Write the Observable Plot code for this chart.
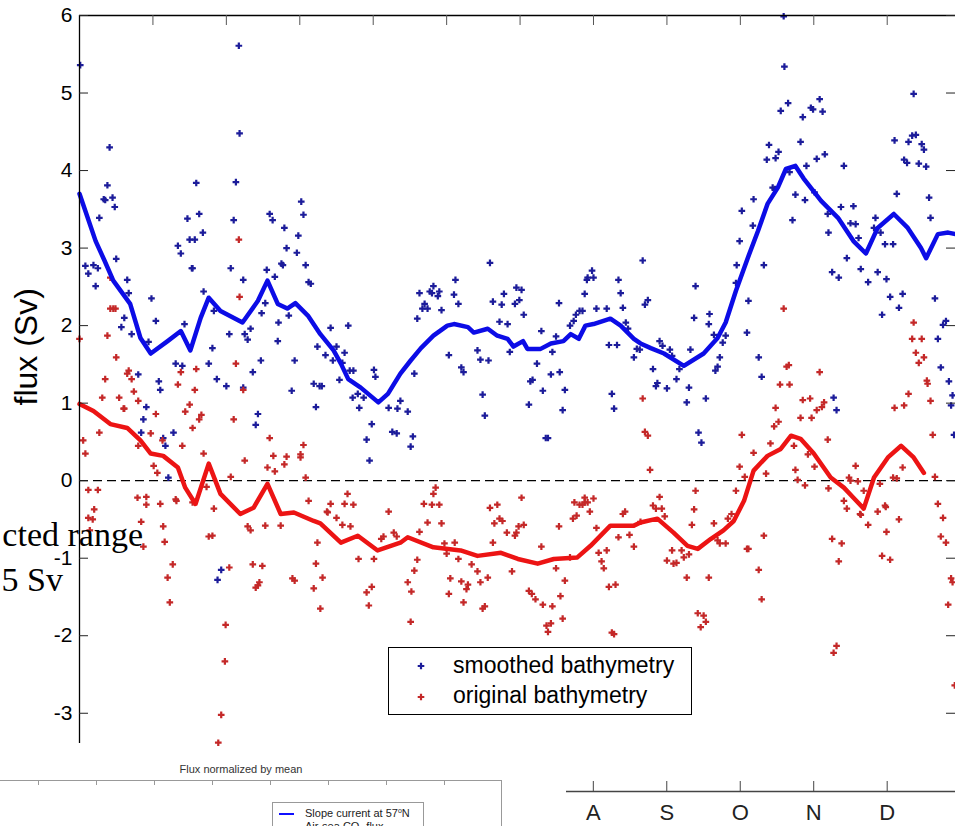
<!DOCTYPE html>
<html><head><meta charset="utf-8">
<script src="https://cdn.jsdelivr.net/npm/d3@7"></script>
<script src="https://cdn.jsdelivr.net/npm/@observablehq/plot@0.6"></script>
<style>
html,body{margin:0;padding:0;background:#fff;}
#wrap{position:relative;width:955px;height:826px;overflow:hidden;font-family:"Liberation Sans",Arial,sans-serif;}
#wrap svg{display:block;}
.abs{position:absolute;white-space:nowrap;}
</style></head><body><div id="wrap"></div>
<script>
// x: months since Jan 1 (tick every month), y: flux (Sv)
const yTicks = [-3,-2,-1,0,1,2,3,4,5,6];
const monthTicks = [1,2,3,4,5,6,7,8,9,10,11];
const monthLetters = ["J","F","M","A","M","J","J","A","S","O","N","D"];
const shownMonths = [7,8,9,10,11];

const blueSmooth = [[0,3.70],[0.22,3.09],[0.34,2.84],[0.46,2.58],[0.69,2.28],[0.83,1.84],[0.97,1.64],[1.20,1.80],[1.38,1.93],[1.51,1.68],
[1.65,2.10],[1.76,2.36],[1.92,2.19],[2.22,2.04],[2.43,2.32],[2.56,2.58],[2.70,2.28],[2.83,2.22],[2.94,2.29],[3.11,2.13],
[3.28,1.89],[3.46,1.68],[3.56,1.51],[3.66,1.31],[3.83,1.20],[4.07,1.01],[4.20,1.12],[4.37,1.38],[4.51,1.55],[4.65,1.71],
[4.82,1.87],[5.01,2.00],[5.10,2.02],[5.29,1.98],[5.37,1.91],[5.56,1.96],[5.69,1.87],[5.83,1.83],[5.91,1.73],[6.04,1.80],
[6.10,1.70],[6.28,1.70],[6.42,1.77],[6.59,1.80],[6.69,1.89],[6.80,1.83],[6.89,2.00],[7.00,2.02],[7.23,2.09],[7.37,2.00],
[7.55,1.83],[7.64,1.77],[7.78,1.71],[7.96,1.64],[8.23,1.48],[8.50,1.64],[8.69,1.84],[8.80,2.04],[8.94,2.45],[9.10,2.87],
[9.24,3.22],[9.37,3.57],[9.51,3.78],[9.62,4.02],[9.75,4.06],[9.86,3.90],[10.10,3.61],[10.33,3.39],[10.54,3.09],[10.71,2.93],
[10.87,3.26],[11.09,3.44],[11.28,3.26],[11.46,3.00],[11.53,2.87],[11.69,3.18],[11.83,3.20],[11.93,3.18]];

const redSmooth = [[0,0.99],[0.19,0.90],[0.42,0.73],[0.65,0.68],[0.83,0.52],[0.97,0.35],[1.14,0.32],[1.34,0.17],[1.44,-0.09],[1.58,-0.30],
[1.76,0.22],[1.92,-0.17],[2.19,-0.43],[2.37,-0.35],[2.56,-0.04],[2.74,-0.43],[2.92,-0.41],[3.19,-0.52],[3.28,-0.55],[3.56,-0.80],
[3.79,-0.71],[4.06,-0.90],[4.37,-0.80],[4.47,-0.73],[4.82,-0.86],[5.19,-0.90],[5.42,-0.97],[5.74,-0.93],[5.97,-1.01],[6.24,-1.07],
[6.46,-1.01],[6.78,-0.99],[6.96,-0.84],[7.23,-0.58],[7.55,-0.58],[7.64,-0.54],[7.87,-0.49],[8.09,-0.67],[8.28,-0.84],[8.42,-0.88],
[8.60,-0.75],[8.77,-0.64],[8.91,-0.52],[9.05,-0.26],[9.18,0.13],[9.37,0.32],[9.55,0.41],[9.69,0.58],[9.82,0.54],[10.00,0.35],
[10.23,0.04],[10.41,-0.09],[10.54,-0.22],[10.68,-0.36],[10.82,0.04],[11.01,0.30],[11.19,0.45],[11.36,0.30],[11.50,0.10]];

const bluePoints = [[0.01,5.36],[0.41,4.30],[2.17,5.61],[2.18,4.48],[0.38,3.81],[0.33,3.63],[0.35,3.62],[0.45,3.65],[0.48,3.53],[0.27,3.39],
[1.59,3.84],[1.63,3.44],[1.68,3.20],[1.47,3.38],[1.50,3.11],[1.57,3.11],[1.34,3.03],[1.38,2.93],[1.53,2.74],[2.13,3.85],
[2.10,3.36],[2.06,2.74],[2.59,3.44],[2.63,3.36],[2.79,3.26],[2.82,3.00],[2.75,2.80],[2.55,2.72],[2.66,2.63],[3.02,3.60],
[3.05,3.43],[2.98,3.16],[2.96,2.94],[3.08,2.78],[0.08,2.77],[0.12,2.67],[0.19,2.78],[0.25,2.74],[0.50,2.86],[0.65,2.59],
[2.23,2.59],[3.12,2.56],[5.59,2.81],[5.12,2.59],[6.98,2.71],[6.92,2.62],[7.00,2.62],[7.34,2.59],[9.59,5.99],[9.60,5.34],
[9.65,4.87],[9.55,4.77],[9.85,4.69],[9.96,4.81],[9.99,4.79],[10.08,4.92],[10.12,4.76],[9.39,4.33],[9.52,4.24],[9.48,4.16],
[9.36,4.14],[9.82,4.37],[10.15,4.21],[10.04,4.15],[9.90,4.06],[9.67,3.98],[10.41,4.06],[9.44,3.78],[9.47,3.76],[9.75,3.69],
[9.88,3.62],[10.01,3.72],[9.18,3.63],[9.02,3.48],[9.71,3.36],[10.19,3.44],[10.37,3.53],[10.54,3.54],[10.50,3.32],[10.57,3.31],
[10.61,3.13],[10.20,3.20],[10.84,3.39],[10.82,3.26],[10.91,3.20],[10.97,3.05],[11.08,3.05],[9.17,3.29],[8.99,3.09],[8.95,2.78],
[9.32,2.78],[10.45,2.87],[10.64,2.73],[10.25,2.69],[10.34,2.62],[10.87,2.69],[10.99,2.60],[7.67,2.84],[11.36,4.99],[11.10,4.39],
[11.29,4.37],[11.34,4.45],[11.39,4.46],[11.47,4.34],[11.50,4.27],[11.23,4.14],[11.27,4.10],[11.43,4.09],[11.53,4.05],[11.13,3.70],
[11.57,3.65],[11.59,3.39],
[0.22,2.51],[0.67,2.42],[0.98,2.35],[1.04,2.06],[0.57,1.98],[0.61,2.10],[0.71,1.89],[0.80,1.37],[0.94,1.79],[1.43,2.02],
[1.08,1.28],[1.10,1.17],[0.91,0.95],[0.87,0.79],[0.84,0.62],[1.14,0.55],[1.28,0.62],[1.17,0.45],[1.21,0.04],[1.31,1.51],
[1.40,1.48],[1.54,2.74],[1.69,2.44],[1.83,2.19],[1.81,1.71],[1.76,1.51],[1.87,1.31],[2.00,1.22],[2.04,1.89],[2.25,1.89],
[2.29,1.82],[2.33,1.96],[2.23,1.20],[2.36,1.40],[2.43,0.86],[2.40,0.72],[2.47,1.55],[2.53,2.29],[2.48,2.16],[2.71,2.04],
[2.70,1.80],[2.77,2.78],[2.85,2.13],[2.93,1.55],[2.89,1.16],[3.24,1.73],[3.19,1.25],[3.27,1.22],[3.22,0.95],
[3.15,2.54],[3.42,1.97],[3.35,1.62],[3.45,1.55],[3.50,1.73],[3.61,1.65],[3.58,1.52],[3.54,1.30],[3.66,2.00],[3.68,1.42],
[3.73,1.42],[3.30,1.22],[3.72,1.07],[3.79,1.12],[3.81,0.94],[3.87,1.07],[4.01,1.43],[4.03,1.34],[3.98,0.73],[3.91,0.53],
[3.95,0.26],[4.21,0.94],[4.26,0.63],[4.32,0.61],[4.33,0.93],[4.37,1.03],[4.47,0.89],[4.54,0.57],[4.51,0.44],[4.56,1.38],
[4.60,2.09],[4.63,2.42],[4.67,2.22],[4.74,2.22],[4.70,2.28],[4.77,2.44],[4.80,2.42],[4.82,2.51],[4.88,2.38],[4.90,2.44],
[4.93,2.20],[5.03,1.62],[5.10,2.40],[5.16,2.28],[5.20,1.46],[5.23,1.40],[5.42,1.68],[5.46,1.56],[5.57,1.55],[5.49,1.11],
[5.52,0.84],[5.63,2.31],[5.72,2.05],[5.78,2.41],[5.75,2.27],[5.83,2.02],[5.86,1.66],[5.93,2.28],[5.95,2.49],[6.02,2.46],
[5.99,2.33],[6.05,2.14],[6.12,0.98],[6.14,1.28],[6.17,1.30],[6.23,1.51],[6.29,1.93],[6.31,1.16],[6.35,0.55],[6.38,0.55],
[6.42,1.37],[6.44,1.66],[6.49,1.86],[6.53,2.29],[6.54,1.40],[6.61,1.17],[6.58,0.91],[6.68,2.00],[6.73,2.06],[6.76,2.14],
[6.81,2.19],[6.85,2.19],[6.88,2.41],[6.91,2.59],[7.04,2.22],[7.18,2.22],[7.21,1.75],[7.25,1.12],[7.28,0.93],[7.32,1.75],
[7.37,2.42],[7.40,2.23],[7.44,2.04],
[7.47,1.96],[7.55,1.59],[7.59,1.70],[7.63,1.69],[7.70,2.27],[7.74,2.33],[7.81,1.44],[7.85,1.22],[7.87,1.26],[7.90,1.80],
[7.94,1.74],[8.00,1.19],[8.04,1.69],[8.07,1.61],[8.13,1.31],[8.17,1.44],[8.27,1.01],[8.30,1.20],[8.32,1.69],[8.37,2.10],
[8.39,2.51],[8.43,0.62],[8.47,0.49],[8.53,1.06],[8.57,2.02],[8.58,2.15],[8.64,1.88],[8.66,1.42],[8.69,1.47],[8.72,1.59],
[8.76,1.78],[8.80,1.87],[8.94,2.55],[9.11,2.32],[9.09,1.91],[9.25,1.59],[9.29,1.34],[10.27,1.07],[10.31,0.91],[10.74,2.56],
[11.04,2.37],[10.93,2.14],[11.16,2.23],[11.21,2.41],[11.65,2.35],[11.69,1.83],[11.76,2.01],[11.80,2.06],[11.73,1.46],[11.84,1.28],
[11.87,0.97],[11.89,1.10],[11.91,0.59],[1.93,-1.15],[1.88,-1.28]];

const redPoints = [[2.17,3.11],[0.42,2.62],[0.42,2.22],[0.46,2.22],[0.49,2.22],[0.00,1.83],[0.38,1.87],[0.50,1.59],[0.67,1.42],[0.65,1.38],
[0.71,1.31],[0.35,1.31],[0.54,1.07],[0.60,0.93],[0.61,0.93],[0.74,1.15],[0.80,1.03],[0.31,1.07],[0.27,0.62],[0.05,0.52],
[0.08,0.35],[0.12,-0.12],[0.25,-0.12],[0.20,-0.37],[0.12,-0.48],[0.80,0.45],[0.97,0.61],[1.04,0.86],[1.13,0.52],[1.01,0.19],
[1.06,0.10],[0.91,-0.21],[1.10,-0.30],[0.79,-0.22],[1.34,1.24],[1.38,1.40],[1.50,0.98],[1.44,0.89],[1.40,0.45],[1.31,-0.24],
[1.66,0.85],[1.63,0.79],[1.54,0.68],[1.57,1.17],[1.59,1.44],[1.69,0.35],[1.73,-0.08],[1.83,-0.36],[2.10,0.79],[2.13,1.51],
[2.18,2.37],[2.23,1.17],[2.25,0.26],[2.06,0.05],[2.59,0.55],[2.64,0.32],[2.66,0.12],[2.56,0.17],[2.79,0.21],[2.82,0.31],
[3.01,0.30],[3.05,0.46],[3.08,0.04],[3.12,-0.26],
[0.18,-0.50],[0.14,-0.64],[0.87,-0.85],[0.91,-0.31],[0.84,-0.53],[1.14,-0.59],[1.16,-0.79],[1.27,-1.08],[1.20,-1.25],[1.23,-1.57],
[1.32,-0.26],[1.54,-0.28],[1.76,-0.72],[1.81,-0.71],[2.04,-1.12],[1.99,-1.86],[1.98,-2.33],[1.93,-3.02],[1.89,-3.38],[2.29,-0.59],
[2.33,-0.64],[2.53,-0.58],[2.36,-1.08],[2.49,-1.10],[2.40,-1.38],[2.43,-1.35],[2.45,-1.31],[2.74,-0.58],[2.90,-1.26],[2.93,-1.29],
[3.24,-0.80],[3.22,-1.07],[3.19,-1.39],[3.28,-1.65],
[3.31,-1.25],[3.38,-0.41],[3.42,-0.30],[3.50,-0.48],[3.58,-0.57],[3.61,-0.30],[3.69,-0.59],[3.73,-0.31],[3.80,-1.01],[3.91,-1.44],
[3.94,-1.61],[3.98,-1.37],[4.01,-1.01],[4.11,-0.75],[4.14,-0.72],[4.21,-0.40],[4.28,-0.67],[4.32,-0.72],[4.47,-1.31],[4.52,-1.43],
[4.51,-1.82],[4.56,-1.16],[4.60,-1.02],[4.63,-0.66],[4.69,-0.30],[4.74,-0.54],[4.80,-0.31],[4.90,-0.31],[4.93,-0.55],[4.97,-0.81],
[5.00,-0.94],[5.03,-1.46],[5.05,-1.26],[5.11,-0.80],[5.16,-1.01],[5.20,-1.30],[5.23,-1.57],[5.27,-1.40],[5.29,-1.34],[5.34,-1.08],
[5.42,-1.17],[5.46,-1.31],[5.49,-1.65],[5.52,-1.62],[5.56,-1.25],[5.59,-0.35],[5.63,-0.80],[5.65,-0.55],[5.69,-0.31],[5.72,-0.49],
[5.76,-0.52],[5.82,-0.67],[5.89,-1.17],[5.93,-0.71],[5.95,-0.67],[5.98,-0.59],[6.05,-0.57],[6.12,-1.42],[6.16,-1.46],[6.21,-1.53],
[6.29,-0.85],[6.31,-1.60],[6.36,-1.87],[6.38,-1.95],[6.42,-1.84],[6.44,-1.62],[6.49,-1.13],[6.53,-0.59],[6.55,-1.49],[6.58,-1.78],
[6.61,-1.29],[6.68,-0.99],[6.72,-0.49],[6.77,-0.45],[6.81,-0.31],[6.85,-0.31],[6.88,-0.28],[6.95,-0.40],[7.04,-0.61],[7.07,-0.93],
[7.11,-1.04],[7.14,-1.13],[7.18,-0.90],[7.21,-1.37],[7.30,-1.34],[7.25,-1.96],[7.28,-1.98],[7.34,-0.73],[7.40,-0.43],[7.43,-0.40],
[7.49,-0.70],[7.55,-0.85],
[3.01,0.34],[3.37,-0.40],[3.65,-0.17],[4.82,-0.17],[4.85,-0.09],[6.02,-0.22],[6.74,-0.28],[6.88,-0.22],[7.00,-0.23],[6.92,-0.28],
[9.59,2.22],[11.36,2.04],[11.34,1.83],[11.47,1.83],[11.39,1.65],[11.50,1.59],[11.43,1.52],[9.63,1.47],[9.66,1.49],[10.08,1.40],
[9.54,1.24],[9.67,1.24],[11.54,1.29],[11.55,1.25],[11.29,1.12],[11.59,1.03],[9.85,1.04],[9.95,1.06],[10.14,1.01],[10.11,0.95],
[10.04,0.91],[9.97,0.81],[9.82,0.81],[9.48,0.94],[9.52,0.76],[9.46,0.70],[11.10,0.94],[11.23,0.97],[7.67,1.06],[7.70,0.63],
[7.74,0.58],[7.77,0.14],[9.02,0.59],[9.18,0.36],[9.41,0.48],[9.73,0.45],[10.19,0.53],[9.92,0.34],[10.01,0.18],[9.75,0.14],
[9.35,0.09],[8.99,0.18],[9.06,0.05],[8.94,-0.13],[9.78,0.01],[9.88,-0.06],[10.20,-0.10],[10.48,0.04],[10.50,0.00],[10.57,0.19],
[10.60,-0.01],[10.68,-0.13],[10.90,-0.04],[11.08,0.04],[11.13,0.03],[11.21,0.17],[11.65,0.05],[11.62,0.59],[8.39,-0.13],[8.37,-0.37],
[7.90,-0.21],[7.81,-0.32],[7.85,-0.36],[7.93,-0.36],[10.41,-0.26],[10.45,-0.36],[10.63,-0.43],[10.87,-0.40],[10.98,-0.34],[11.69,-0.30],
[11.76,-0.48],
[7.64,-0.53],[7.97,-0.46],[8.00,-1.03],[8.07,-0.90],[8.09,-1.07],[8.13,-1.06],[8.20,-0.90],[8.23,-0.99],[8.30,-0.95],[8.34,-0.57],
[8.27,-1.25],[8.57,-1.25],[8.64,-0.55],[8.69,-0.77],[8.72,-0.81],[8.80,-0.81],[8.83,-0.49],[8.88,-0.43],[9.09,-0.88],[9.11,-0.88],
[9.32,-0.71],[9.25,-1.15],[9.29,-1.53],[8.42,-1.71],[8.50,-1.74],[8.53,-1.82],[8.46,-1.89],[10.25,-0.75],[10.38,-0.81],[10.34,-1.04],
[10.31,-2.13],[10.27,-2.22],[10.64,-0.44],[10.74,-0.57],[10.97,-0.32],[10.99,-0.66],[11.16,-0.50],[10.93,-0.97],[11.04,-1.02],[11.73,-0.72],
[11.80,-0.80],[11.87,-1.26],[11.89,-1.31],[11.83,-1.60],[11.92,-2.64]];

const BLUE_PT = "#1c1c9a", RED_PT = "#c42828", BLUE_LN = "#0c0ce6", RED_LN = "#ec1414";
const wrap = document.getElementById("wrap");

const main = Plot.plot({
  width: 955, height: 826,
  marginLeft: 79, marginRight: 0, marginTop: 15, marginBottom: 83,
  x: {domain: [0, 11.93], axis: null},
  y: {domain: [-3.39, 6], axis: null},
  style: {background: "transparent", color: "#000", fontFamily: "'Liberation Sans', Arial, sans-serif", overflow: "visible"},
  marks: [
    Plot.ruleY([0], {stroke: "#000", strokeWidth: 1.2, strokeDasharray: "9,5"}),
    Plot.dot(bluePoints, {x: d => d[0], y: d => d[1], symbol: "cross", r: 2.8, fill: BLUE_PT}),
    Plot.dot(redPoints, {x: d => d[0], y: d => d[1], symbol: "cross", r: 2.8, fill: RED_PT}),
    Plot.line(blueSmooth, {x: d => d[0], y: d => d[1], stroke: BLUE_LN, strokeWidth: 4.5, strokeLinejoin: "round"}),
    Plot.line(redSmooth, {x: d => d[0], y: d => d[1], stroke: RED_LN, strokeWidth: 4.5, strokeLinejoin: "round"}),
    Plot.ruleX([0], {stroke: "#000", strokeWidth: 1.3}),
    Plot.ruleY([6], {stroke: "#000", strokeWidth: 1.3}),
    Plot.tickY(yTicks, {y: d => d, insetRight: 867, stroke: "#222"}),
    Plot.tickY(yTicks, {y: d => d, insetLeft: 867, stroke: "#222"}),
    Plot.tickX(monthTicks, {x: d => d, insetBottom: 718, stroke: "#555"}),
    Plot.axisY({ticks: yTicks, anchor: "left", tickSize: 0, tickPadding: 7, fontSize: 21, tickFormat: d => String(d), label: null}),
    Plot.text(["flux (Sv)"], {text: d => d, frameAnchor: "left", dx: -53, dy: 26, rotate: -90, fontSize: 32})
  ]
});
main.style.position = "absolute"; main.style.left = "0"; main.style.top = "0";
wrap.appendChild(main);

// bottom-right fragment: month axis A S O N D
const monthAxis = Plot.plot({
  width: 955, height: 56,
  marginLeft: 566, marginRight: 0, marginTop: 0, marginBottom: 35,
  x: {domain: [6.635, 11.93], axis: null},
  y: {domain: [0, 1], axis: null},
  style: {background: "transparent", color: "#222", fontFamily: "'Liberation Sans', Arial, sans-serif", overflow: "visible"},
  marks: [
    Plot.ruleY([0], {stroke: "#444", strokeWidth: 1.3}),
    Plot.tickX(shownMonths, {x: d => d, insetTop: 11, stroke: "#444"}),
    Plot.axisX({ticks: shownMonths, anchor: "bottom", tickSize: 0, tickPadding: 13, fontSize: 22, tickFormat: i => monthLetters[i], label: null})
  ]
});
monthAxis.style.position = "absolute"; monthAxis.style.left = "0"; monthAxis.style.top = "770px";
wrap.appendChild(monthAxis);

function add(html) { wrap.insertAdjacentHTML("beforeend", html); }

// overlapping serif text fragment
add(`<div class="abs" style="right:812px;top:518px;font:34px/34px 'Liberation Serif','Times New Roman',serif;color:#000;">cted range</div>`);
add(`<div class="abs" style="right:892px;top:563px;font:34px/34px 'Liberation Serif','Times New Roman',serif;color:#000;">5 Sv</div>`);

// main legend
const cross = c => `<svg width="8" height="8" viewBox="-4 -4 8 8" style="position:absolute;"><path d="M-1.1,-3.3H1.1V-1.1H3.3V1.1H1.1V3.3H-1.1V1.1H-3.3V-1.1H-1.1Z" fill="${c}"/></svg>`;
add(`<div class="abs" style="left:388px;top:647px;width:302px;height:66px;border:1.3px solid #000;background:#fff;"></div>`);
add(`<div class="abs" style="left:417px;top:662px;">${cross(BLUE_PT)}</div>`);
add(`<div class="abs" style="left:417px;top:693px;">${cross(RED_PT)}</div>`);
add(`<div class="abs" style="left:453px;top:654px;font:23px/23px 'Liberation Sans',Arial,sans-serif;color:#000;">smoothed bathymetry</div>`);
add(`<div class="abs" style="left:453px;top:684px;font:23px/23px 'Liberation Sans',Arial,sans-serif;color:#000;">original bathymetry</div>`);

// bottom-left fragment: "Flux normalized by mean"
add(`<div class="abs" style="left:0;width:482px;text-align:center;top:764px;font:11px/11px 'Liberation Sans',Arial,sans-serif;color:#333;">Flux normalized by mean</div>`);
add(`<div class="abs" style="left:0;top:780px;width:502px;border-top:1.5px solid #999;"></div>`);
[38,96,154,212,270,328,386,444].forEach(x => add(`<div class="abs" style="left:${x}px;top:781px;width:0;height:4px;border-left:1px solid #999;"></div>`));
add(`<div class="abs" style="left:501px;top:780px;height:50px;border-left:1.5px solid #999;"></div>`);
add(`<div class="abs" style="left:272px;top:802px;width:150px;height:40px;border:1px solid #999;background:#fff;"></div>`);
add(`<div class="abs" style="left:279px;top:813px;width:15px;border-top:2px solid #1010ff;"></div>`);
add(`<div class="abs" style="left:305px;top:808px;font:11px/11px 'Liberation Sans',Arial,sans-serif;color:#222;">Slope current at 57<sup style="font-size:7px;vertical-align:4px;line-height:0">o</sup>N</div>`);
add(`<div class="abs" style="left:305px;top:821px;font:11px/11px 'Liberation Sans',Arial,sans-serif;color:#222;">Air-sea CO<sub style="font-size:7px;line-height:0">2</sub> flux</div>`);
</script>
</body></html>
